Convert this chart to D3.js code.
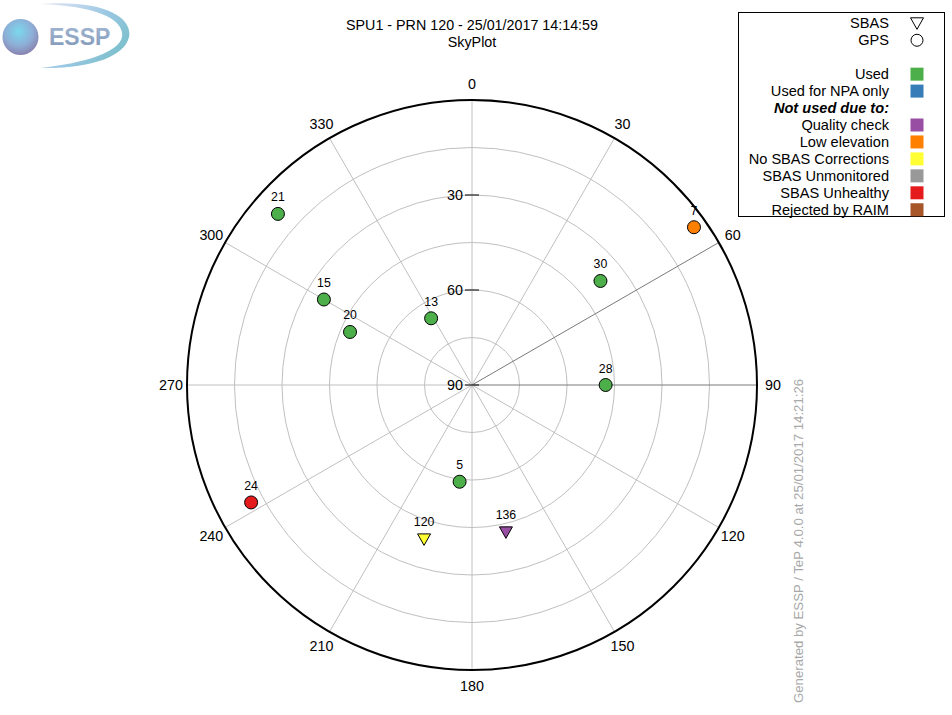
<!DOCTYPE html>
<html><head><meta charset="utf-8">
<script src="https://cdn.jsdelivr.net/npm/d3@7"></script>
<style>body{margin:0;background:#fff}svg{display:block;font-family:"Liberation Sans",Arial,sans-serif}</style>
</head><body>
<script>
// ---- data ----
const prns     = ["21","15","20","13","7","30","28","24","5","120","136"];
const azimuths = [311.4, 300, 293.5, 328.5, 54.6, 51, 90, 242, 187.3, 197.3, 167];
const elevs    = [8.3, 36, 48, 65.3, 4, 37.8, 47.8, 11, 59.2, 39.1, 42.4];
const systems  = ["GPS","GPS","GPS","GPS","GPS","GPS","GPS","GPS","GPS","SBAS","SBAS"];
const statuses = ["Used","Used","Used","Used","Low elevation","Used","Used","SBAS Unhealthy","Used","No SBAS Corrections","Quality check"];
const statusNames  = ["Used","Used for NPA only","Quality check","Low elevation","No SBAS Corrections","SBAS Unmonitored","SBAS Unhealthy","Rejected by RAIM"];
const statusColors = ["#4daf4a","#377eb8","#984ea3","#ff7f00","#ffff33","#999999","#e41a1c","#a65628"];
const azTicks  = [0,30,60,90,120,150,180,210,240,270,300,330];
const elRings  = [75,60,45,30,15];
const elLabels = [30,60,90];
const title1 = "SPU1 - PRN 120 - 25/01/2017 14:14:59";
const title2 = "SkyPlot";
const footer = "Generated by ESSP / TeP 4.0.0 at 25/01/2017 14:21:26";

const W = 952, H = 715, cx = 472, cy = 385, R = 285;
const svg = d3.select("body").append("svg").attr("width", W).attr("height", H);
const rScale = d3.scaleLinear().domain([90, 0]).range([0, R]);
const color = d3.scaleOrdinal().domain(statusNames).range(statusColors);
const pos = (az, el) => { const r = rScale(el), a = az * Math.PI / 180; return [cx + r * Math.sin(a), cy - r * Math.cos(a)]; };

// logo
const defs = svg.append("defs");
const rg = defs.append("radialGradient").attr("id","sph").attr("cx","0.45").attr("cy","0.35").attr("r","0.65");
rg.append("stop").attr("offset","0").attr("stop-color","#7ad8ee");
rg.append("stop").attr("offset","0.6").attr("stop-color","#8eaed6");
rg.append("stop").attr("offset","1").attr("stop-color","#8884b0");
const lg = defs.append("linearGradient").attr("id","sw").attr("x1","0").attr("y1","0").attr("x2","1").attr("y2","0.6");
lg.append("stop").attr("offset","0").attr("stop-color","#e8e8f4");
lg.append("stop").attr("offset","0.6").attr("stop-color","#9cc8e4");
lg.append("stop").attr("offset","1").attr("stop-color","#7cc0cc");
const tg = defs.append("linearGradient").attr("id","tx").attr("x1","0").attr("y1","0").attr("x2","0").attr("y2","1");
tg.append("stop").attr("offset","0").attr("stop-color","#a4b8d4");
tg.append("stop").attr("offset","1").attr("stop-color","#8298b8");
svg.append("path").attr("d","M40,4 C105,-1 133,18 129,37 C125,56 92,69 40,68 C86,63 119,52 122,37 C125,20 98,6 40,4 Z").attr("fill","url(#sw)");
svg.append("circle").attr("cx",20.5).attr("cy",37).attr("r",18).attr("fill","url(#sph)");
svg.append("text").attr("x",49).attr("y",44.5).attr("font-size",23).attr("font-weight","bold").attr("fill","url(#tx)").text("ESSP");

// titles
svg.append("text").attr("x",cx).attr("y",30).attr("text-anchor","middle").attr("font-size",14.3).text(title1);
svg.append("text").attr("x",cx).attr("y",47).attr("text-anchor","middle").attr("font-size",14.3).text(title2);

// grid rings
svg.append("g").selectAll("circle").data(elRings).join("circle")
  .attr("cx",cx).attr("cy",cy).attr("r",d=>rScale(d)).attr("fill","none").attr("stroke","#c0c0c0").attr("stroke-width",1);
// spokes
svg.append("g").selectAll("line").data(azTicks).join("line")
  .attr("x1",cx).attr("y1",cy)
  .attr("x2",d=>pos(d,0)[0]).attr("y2",d=>pos(d,0)[1])
  .attr("stroke",d=>(d===60||d===90)?"#7a7a7a":"#c0c0c0").attr("stroke-width",1);
// outer circle
svg.append("circle").attr("cx",cx).attr("cy",cy).attr("r",R).attr("fill","none").attr("stroke","#000").attr("stroke-width",2);
// azimuth labels
const rl = d3.scaleLinear().domain([90,0]).range([0,301]);
svg.append("g").selectAll("text").data(azTicks).join("text")
  .attr("x",d=>cx + rl(0)*Math.sin(d*Math.PI/180))
  .attr("y",d=>cy - rl(0)*Math.cos(d*Math.PI/180))
  .attr("text-anchor","middle").attr("dominant-baseline","central").attr("font-size",14.3).text(d=>d);
// elevation labels and ticks
const eg = svg.append("g");
eg.selectAll("line").data(elLabels).join("line")
  .attr("x1",cx-7).attr("x2",cx+7).attr("y1",d=>cy-rScale(d)).attr("y2",d=>cy-rScale(d)).attr("stroke","#000");
eg.selectAll("text").data(elLabels).join("text")
  .attr("x",cx-9).attr("y",d=>cy-rScale(d)).attr("text-anchor","end").attr("dominant-baseline","central").attr("font-size",14.3).text(d=>d);

// satellites
const sats = prns.map((p,i)=>({prn:p, az:azimuths[i], el:elevs[i], sys:systems[i], st:statuses[i]}));
const sg = svg.append("g").selectAll("g").data(sats).join("g")
  .attr("transform",d=>{const [x,y]=pos(d.az,d.el); return `translate(${x},${y})`;});
sg.each(function(d){
  const g = d3.select(this);
  if (d.sys === "SBAS") {
    g.append("path").attr("d","M-6.5,-5 L6.5,-5 L0,6.5 Z").attr("fill",color(d.st)).attr("stroke","#000").attr("stroke-width",1);
  } else {
    g.append("circle").attr("r",6.5).attr("fill",color(d.st)).attr("stroke","#000").attr("stroke-width",1);
  }
  g.append("text").attr("x",0).attr("y",-12.5).attr("text-anchor","middle").attr("font-size",12.3).text(d.prn);
});

// legend
const L = svg.append("g");
L.append("rect").attr("x",738.5).attr("y",12.5).attr("width",206).attr("height",204).attr("fill","#fff").attr("stroke","#000");
const tx = 889, sx = 917, fs = 14.6;
const rowY = i => 23.3 + i*16.95;
L.append("text").attr("x",tx).attr("y",rowY(0)).attr("text-anchor","end").attr("dominant-baseline","central").attr("font-size",fs).text("SBAS");
L.append("path").attr("d",`M${sx-6.5},${rowY(0)-5.5} L${sx+6.5},${rowY(0)-5.5} L${sx},${rowY(0)+6} Z`).attr("fill","none").attr("stroke","#000");
L.append("text").attr("x",tx).attr("y",rowY(1)).attr("text-anchor","end").attr("dominant-baseline","central").attr("font-size",fs).text("GPS");
L.append("circle").attr("cx",sx).attr("cy",rowY(1)).attr("r",6).attr("fill","none").attr("stroke","#000");
const legRows = [
  {t:"Used", c:statusColors[0], y:3},
  {t:"Used for NPA only", c:statusColors[1], y:4},
  {t:"Not used due to:", c:null, y:5},
  ...statusNames.slice(2).map((n,i)=>({t:n, c:statusColors[i+2], y:6+i}))
];
legRows.forEach(r=>{
  const t = L.append("text").attr("x",tx).attr("y",rowY(r.y)).attr("text-anchor","end").attr("dominant-baseline","central").attr("font-size",fs).text(r.t);
  if (!r.c) t.attr("font-weight","bold").attr("font-style","italic");
  else L.append("rect").attr("x",sx-6.5).attr("y",rowY(r.y)-6.5).attr("width",13).attr("height",13).attr("fill",r.c);
});

// footer
svg.append("text").attr("transform","translate(803,703) rotate(-90)").attr("font-size",13.2).attr("fill","#a8a8a8").text(footer);
</script>
</body></html>
